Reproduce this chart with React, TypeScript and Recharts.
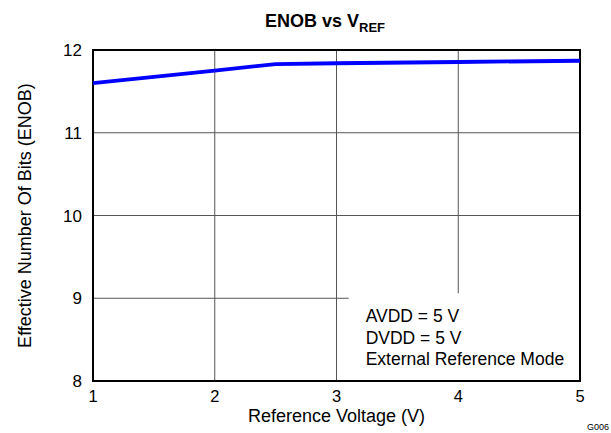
import React from "react";
import {
  LineChart,
  Line,
  XAxis,
  YAxis,
  CartesianGrid,
  ReferenceArea,
  Customized,
  Label,
} from "recharts";

const vref = [1, 2, 2.5, 3, 4, 5];
const enob = [11.6, 11.75, 11.83, 11.84, 11.855, 11.87];
const xTicks = [1, 2, 3, 4, 5];
const yTicks = [8, 9, 10, 11, 12];
const noteLines = ["AVDD = 5 V", "DVDD = 5 V", "External Reference Mode"];
const noteBox = { x1: 3.1, x2: 5, y1: 8, y2: 9.06 };

const data = vref.map((v, i) => ({ vref: v, enob: enob[i] }));

const FONT = "'Liberation Sans', Arial, sans-serif";

const Overlay = () => (
  <g fontFamily={FONT}>
    <text x={325} y={27} textAnchor="middle" fontSize={18} fontWeight="bold" fill="#000">
      ENOB vs V
      <tspan fontSize={13} dy={5}>REF</tspan>
    </text>
    <text x={609} y={430} textAnchor="end" fontSize={9} fill="#000">
      G006
    </text>
  </g>
);

const NoteContent = (props: any) => {
  const vb = props.viewBox || { x: 0, y: 0 };
  return (
    <g fontFamily={FONT}>
      {noteLines.map((t, i) => (
        <text key={t} x={vb.x + 17} y={vb.y + 29 + i * 21.5} fontSize={17.5} fill="#000">
          {t}
        </text>
      ))}
    </g>
  );
};

export default function App() {
  return (
    <div style={{ position: "absolute", left: 0, top: 0, background: "#fff" }}>
      <LineChart
        width={611}
        height={433}
        data={data}
        margin={{ top: 50, right: 31, bottom: 22, left: 48 }}
      >
        <CartesianGrid stroke="#555" strokeWidth={1} horizontalValues={yTicks} verticalValues={xTicks} />
        <XAxis
          dataKey="vref"
          type="number"
          domain={[1, 5]}
          ticks={xTicks}
          height={30}
          tickLine={false}
          axisLine={false}
          tickMargin={3}
          tick={{ fill: "#000", fontSize: 16.5, fontFamily: FONT }}
        >
          <Label
            value="Reference Voltage (V)"
            position="insideBottom"
            offset={-11}
            style={{ fill: "#000", fontSize: 18, fontFamily: FONT }}
          />
        </XAxis>
        <YAxis
          type="number"
          domain={[8, 12]}
          ticks={yTicks}
          width={45}
          tickLine={false}
          axisLine={false}
          tickMargin={5}
          tick={{ fill: "#000", fontSize: 17, fontFamily: FONT }}
        >
          <Label
            value="Effective Number Of Bits (ENOB)"
            angle={-90}
            position="insideLeft"
            offset={-23}
            style={{ textAnchor: "middle", fill: "#000", fontSize: 18, fontFamily: FONT }}
          />
        </YAxis>
        <ReferenceArea
          x1={noteBox.x1}
          x2={noteBox.x2}
          y1={noteBox.y1}
          y2={noteBox.y2}
          fill="#fff"
          fillOpacity={1}
          stroke="none"
          label={<NoteContent />}
        />
        <Line
          type="linear"
          dataKey="enob"
          stroke="#0000ff"
          strokeWidth={3.8}
          dot={false}
          isAnimationActive={false}
        />
        <ReferenceArea
          x1={1}
          x2={5}
          y1={8}
          y2={12}
          fill="none"
          stroke="#000"
          strokeWidth={2}
        />
        <Customized component={<Overlay />} />
      </LineChart>
    </div>
  );
}
